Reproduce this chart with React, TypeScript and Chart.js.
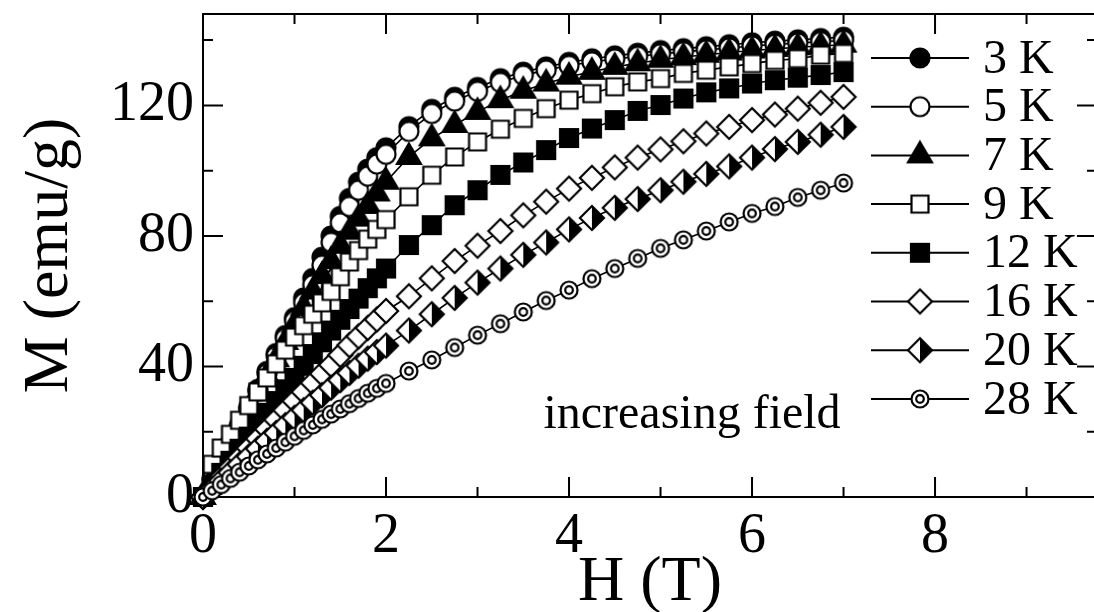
import React, { useEffect, useRef } from "react";
import { Chart, registerables } from "chart.js";

Chart.register(...registerables);

// ---------- data ----------
const FIELD = [
  0, 0.1, 0.2, 0.3, 0.4, 0.5, 0.6, 0.7, 0.8, 0.9, 1.0, 1.1, 1.2, 1.3, 1.4, 1.5, 1.6, 1.7, 1.8, 1.9, 2.0,
  2.25, 2.5, 2.75, 3.0, 3.25, 3.5, 3.75, 4.0, 4.25, 4.5, 4.75, 5.0, 5.25, 5.5, 5.75, 6.0, 6.25, 6.5, 6.75, 7.0,
];

const M_3K = [
  0, 5.5, 11, 16.5, 22, 27.5, 33, 38.5, 44, 49.5, 55, 61, 67, 73.5, 80, 86, 91.5, 96.5, 100.5, 104, 107,
  113.5, 118.8, 122.5, 125.5, 128.2, 130.2, 131.8, 133.2, 134.3, 135.2, 136, 136.8, 137.4, 138, 138.6, 139.2, 139.7, 140.1, 140.5, 140.9,
];
const M_5K = [
  0, 5.4, 10.8, 16.2, 21.6, 27, 32.4, 37.8, 43.2, 48.6, 54, 59.5, 65, 71, 78, 84, 89, 94, 98.3, 102, 105,
  112, 117.5, 121.3, 124.3, 127, 129.2, 130.8, 132.2, 133.3, 134.2, 135, 135.8, 136.4, 137, 137.6, 138.2, 138.7, 139.1, 139.5, 139.9,
];
const M_7K = [
  0, 5.3, 10.6, 15.9, 21.2, 26.5, 31.8, 37, 42.2, 47.5, 52.8, 58, 63, 67.7, 72.3, 77, 81.3, 85.3, 89.2, 93, 96.6,
  104.2, 109.9, 114, 118, 121.6, 124.5, 126.7, 128.8, 130.3, 131.8, 132.9, 134, 134.8, 135.5, 136.2, 136.8, 137.3, 137.8, 138.2, 138.6,
];
const M_9K = [
  0, 10, 15, 19.2, 23.5, 28, 32.2, 36.5, 40.8, 45, 49, 52.5, 56, 59.5, 63, 67.5, 72, 75.5, 79, 82, 85,
  92, 98.6, 104.2, 108.8, 112.7, 116, 119, 121.6, 123.6, 125.7, 127.2, 128.2, 129.8, 130.8, 131.8, 132.8, 133.8, 134.3, 135.4, 135.9,
];
const M_12K = [
  0, 3.7, 7.4, 11.1, 14.8, 18.5, 22.2, 25.8, 29.4, 33, 36.5, 40.2, 43.8, 47.4, 51, 54.3, 57.6, 60.8, 64, 67, 70,
  77.2, 83.3, 89.4, 94, 98.7, 102.5, 106.3, 110, 112.9, 115.5, 118.3, 120.1, 122.1, 124, 125.2, 126.7, 127.7, 128.5, 129.3, 130.2,
];
const M_16K = [
  0, 3, 6, 9, 12, 15, 17.9, 20.8, 23.7, 26.6, 29.4, 32.2, 35, 37.8, 40.5, 43.5, 46.5, 49.2, 51.8, 54.4, 57,
  61.5, 67, 72.3, 77, 81.5, 86.3, 90.5, 94.5, 97.8, 101, 104, 106.5, 109, 111.4, 113.4, 115.5, 117.2, 119, 120.8, 122.6,
];
const M_20K = [
  0, 2.5, 5, 7.5, 10, 12.4, 14.8, 17.2, 19.6, 22, 24.3, 26.6, 28.9, 31.2, 33.5, 35.8, 38, 40.2, 42.4, 44.4, 46.4,
  51, 56, 61, 65.7, 70, 74.2, 78, 82, 85.5, 88.6, 91.3, 94, 96.6, 99, 101.3, 104, 106.6, 108.8, 111, 113.4,
];
const M_28K = [
  0, 1.9, 3.8, 5.7, 7.6, 9.5, 11.4, 13.2, 15, 16.8, 18.6, 20.4, 22.1, 23.8, 25.4, 27, 28.6, 30.2, 31.8, 33.3, 34.8,
  38.6, 42, 45.8, 49.6, 53.1, 56.7, 60.2, 63.4, 66.9, 70, 73.1, 76.2, 78.8, 81.5, 84.3, 86.9, 89, 91.8, 94, 96.2,
];

const SERIES_LABELS = ["3 K", "5 K", "7 K", "9 K", "12 K", "16 K", "20 K", "28 K"];
const SERIES_VALUES = [M_3K, M_5K, M_7K, M_9K, M_12K, M_16K, M_20K, M_28K];
const SERIES_MARKERS = [
  "circleFilled", "circleOpen", "triangleFilled", "squareOpen",
  "squareFilled", "diamondOpen", "diamondHalf", "bullseye",
];

const X_MAJOR = [0, 2, 4, 6, 8];
const X_MINOR = [1, 3, 5, 7, 9];
const Y_MAJOR = [0, 40, 80, 120];
const Y_MINOR = [20, 60, 100, 140];

const X_TITLE = "H (T)";
const Y_TITLE = "M (emu/g)";
const ANNOTATION = "increasing field";
const ANNOTATION_AT = { x: 3.72, y: 21.1 };

const FONT = "'Liberation Serif', 'Times New Roman', Times, serif";

// ---------- markers ----------
function makeMarker(kind: string): HTMLCanvasElement {
  const S = 34;
  const c = S / 2;
  const cv = document.createElement("canvas");
  cv.width = S;
  cv.height = S;
  const g = cv.getContext("2d")!;
  g.lineWidth = 2.2;
  g.strokeStyle = "#000";
  g.lineJoin = "miter";
  const poly = (pts: number[][]) => {
    g.beginPath();
    pts.forEach((p, i) => (i ? g.lineTo(c + p[0], c + p[1]) : g.moveTo(c + p[0], c + p[1])));
    g.closePath();
  };
  switch (kind) {
    case "circleFilled":
      g.beginPath();
      g.arc(c, c, 9.5, 0, Math.PI * 2);
      g.fillStyle = "#000";
      g.fill();
      g.stroke();
      break;
    case "circleOpen":
      g.beginPath();
      g.arc(c, c, 9.5, 0, Math.PI * 2);
      g.fillStyle = "#fff";
      g.fill();
      g.stroke();
      break;
    case "triangleFilled":
      poly([[0, -13.5], [12, 7], [-12, 7]]);
      g.fillStyle = "#000";
      g.fill();
      g.stroke();
      break;
    case "squareOpen":
      poly([[-8.5, -8.5], [8.5, -8.5], [8.5, 8.5], [-8.5, 8.5]]);
      g.fillStyle = "#fff";
      g.fill();
      g.stroke();
      break;
    case "squareFilled":
      poly([[-9, -9], [9, -9], [9, 9], [-9, 9]]);
      g.fillStyle = "#000";
      g.fill();
      g.stroke();
      break;
    case "diamondOpen":
      poly([[0, -12], [12, 0], [0, 12], [-12, 0]]);
      g.fillStyle = "#fff";
      g.fill();
      g.stroke();
      break;
    case "diamondHalf":
      poly([[0, -12], [12, 0], [0, 12], [-12, 0]]);
      g.fillStyle = "#fff";
      g.fill();
      poly([[0, -12], [12, 0], [0, 12]]);
      g.fillStyle = "#000";
      g.fill();
      poly([[0, -12], [12, 0], [0, 12], [-12, 0]]);
      g.stroke();
      break;
    case "bullseye":
      g.beginPath();
      g.arc(c, c, 8.5, 0, Math.PI * 2);
      g.fillStyle = "#fff";
      g.fill();
      g.stroke();
      g.beginPath();
      g.arc(c, c, 3.8, 0, Math.PI * 2);
      g.stroke();
      break;
  }
  return cv;
}

// ---------- plugin: frame, inward ticks, legend, annotation ----------
const decorPlugin = {
  id: "decor",
  beforeDatasetsDraw(chart: any) {
    const { ctx, chartArea: a, scales } = chart;
    const xs = scales.x;
    const ys = scales.y;
    ctx.save();
    ctx.strokeStyle = "#000";
    ctx.lineWidth = 2;
    ctx.strokeRect(a.left, a.top, a.right - a.left, a.bottom - a.top);
    ctx.beginPath();
    const xt = (v: number, len: number) => {
      const p = xs.getPixelForValue(v);
      ctx.moveTo(p, a.bottom);
      ctx.lineTo(p, a.bottom - len);
      ctx.moveTo(p, a.top);
      ctx.lineTo(p, a.top + len);
    };
    const yt = (v: number, len: number) => {
      const p = ys.getPixelForValue(v);
      ctx.moveTo(a.left, p);
      ctx.lineTo(a.left + len, p);
      ctx.moveTo(a.right, p);
      ctx.lineTo(a.right - len, p);
    };
    X_MAJOR.forEach((v) => xt(v, 20));
    X_MINOR.forEach((v) => xt(v, 10));
    Y_MAJOR.forEach((v) => yt(v, 20));
    Y_MINOR.forEach((v) => yt(v, 10));
    ctx.stroke();
    ctx.restore();
  },
  afterDraw(chart: any) {
    const { ctx, scales } = chart;
    ctx.save();
    // annotation
    ctx.fillStyle = "#000";
    ctx.font = `48px ${FONT}`;
    ctx.textAlign = "left";
    ctx.textBaseline = "alphabetic";
    ctx.fillText(
      ANNOTATION,
      scales.x.getPixelForValue(ANNOTATION_AT.x),
      scales.y.getPixelForValue(ANNOTATION_AT.y)
    );
    // legend
    const top = 58;
    const step = 48.7;
    chart.data.datasets.forEach((ds: any, i: number) => {
      const y = top + i * step;
      ctx.strokeStyle = "#000";
      ctx.lineWidth = 2;
      ctx.beginPath();
      ctx.moveTo(871, y);
      ctx.lineTo(969, y);
      ctx.stroke();
      const img = ds.pointStyle as HTMLCanvasElement;
      ctx.drawImage(img, 920 - img.width / 2, y - img.height / 2);
      ctx.fillStyle = "#000";
      ctx.font = `48px ${FONT}`;
      ctx.textBaseline = "middle";
      ctx.fillText(ds.label, 983, y + 2);
    });
    ctx.restore();
  },
};

function zeroPad(s: any) {
  s.paddingLeft = 0;
  s.paddingRight = 0;
  s.paddingTop = 0;
  s.paddingBottom = 0;
}

export default function App() {
  const ref = useRef<HTMLCanvasElement>(null);

  useEffect(() => {
    const datasets = SERIES_LABELS.map((label, i) => ({
      label,
      data: FIELD.map((x, j) => ({ x, y: SERIES_VALUES[i][j] })),
      showLine: true,
      borderColor: "#000",
      borderWidth: 1.6,
      backgroundColor: "#000",
      pointStyle: makeMarker(SERIES_MARKERS[i]),
      pointRadius: 10,
      pointHoverRadius: 10,
      order: -i,
      clip: false as any,
    }));

    const chart = new Chart(ref.current!, {
      type: "scatter",
      data: { datasets },
      options: {
        responsive: false,
        animation: false,
        devicePixelRatio: 1,
        events: [],
        layout: { autoPadding: false, padding: { top: 14, left: 0, right: 0, bottom: 0 } },
        plugins: { legend: { display: false }, tooltip: { enabled: false } },
        scales: {
          x: {
            type: "linear",
            position: "bottom",
            min: 0,
            max: 9.77,
            grid: { display: false, drawTicks: false, tickLength: 0 },
            border: { display: false },
            ticks: {
              stepSize: 2,
              includeBounds: false,
              autoSkip: false,
              maxRotation: 0,
              padding: 7,
              color: "#000",
              font: { family: FONT, size: 56 },
              callback: (v: any) => String(v),
            },
            title: {
              display: true,
              text: X_TITLE,
              color: "#000",
              font: { family: FONT, size: 64, lineHeight: 0.9 },
              padding: { top: 0, bottom: 0 },
            },
            afterFit: (s: any) => {
              s.height = 115;
              zeroPad(s);
            },
          },
          y: {
            type: "linear",
            position: "left",
            min: 0,
            max: 148,
            grid: { display: false, drawTicks: false, tickLength: 0 },
            border: { display: false },
            ticks: {
              stepSize: 40,
              includeBounds: false,
              padding: 9,
              color: "#000",
              font: { family: FONT, size: 56 },
              callback: (v: any) => String(v),
            },
            title: {
              display: true,
              text: Y_TITLE,
              color: "#000",
              font: { family: FONT, size: 64, lineHeight: 0.9 },
              padding: { top: 21, bottom: 0 },
            },
            afterFit: (s: any) => {
              s.width = 203;
              zeroPad(s);
            },
          },
        },
      } as any,
      plugins: [decorPlugin],
    });
    return () => chart.destroy();
  }, []);

  return (
    <div
      style={{
        position: "fixed",
        left: 0,
        top: 0,
        width: 1094,
        height: 612,
        overflow: "hidden",
        background: "#fff",
      }}
    >
      <canvas ref={ref} width={1097} height={612} style={{ display: "block", width: 1097, height: 612 }} />
    </div>
  );
}
